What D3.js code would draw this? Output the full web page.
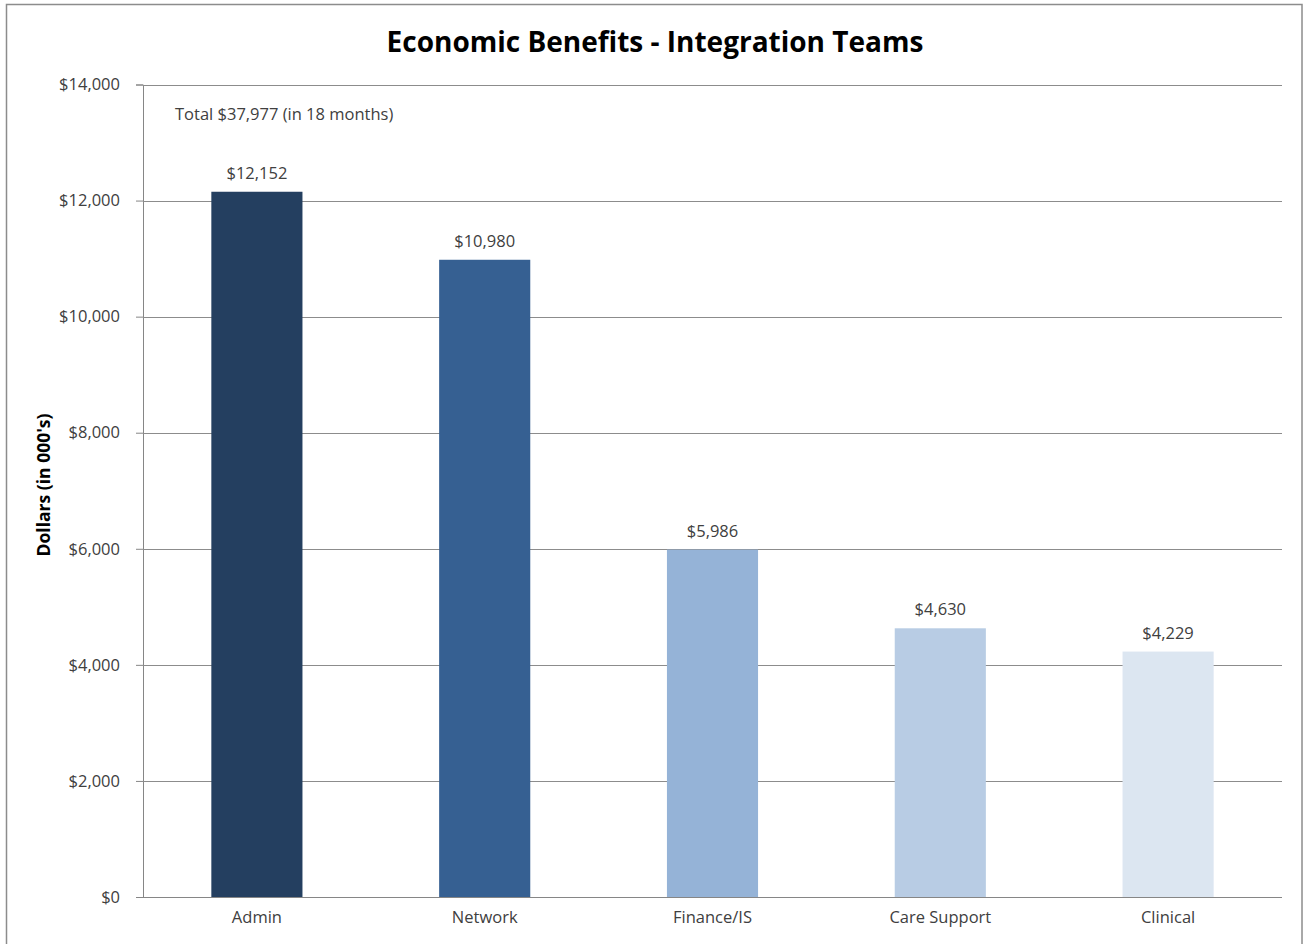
<!DOCTYPE html>
<html>
<head>
<meta charset="utf-8">
<script src="https://cdn.jsdelivr.net/npm/d3@7"></script>
<style>
  html, body { margin: 0; padding: 0; background: #fff; }
  svg { display: block; }
  text { font-family: "Open Sans", "Noto Sans", sans-serif; fill: #404040; }
</style>
</head>
<body>
<svg id="chart" width="1307" height="944"></svg>
<script>
const categories = ['Admin', 'Network', 'Finance/IS', 'Care Support', 'Clinical'];
const values = [12152, 10980, 5986, 4630, 4229];
const barColors = ['#243f60', '#366092', '#95b3d7', '#b8cce4', '#dce6f1'];
const yTicks = [0, 2000, 4000, 6000, 8000, 10000, 12000, 14000];
const title = 'Economic Benefits - Integration Teams';
const yTitle = "Dollars (in 000's)";
const note = 'Total $37,977 (in 18 months)';

const svg = d3.select('#chart');
const width = 1307, height = 944;
const margin = { top: 84.5, right: 25, bottom: 47, left: 143 };

// outer chart border
svg.append('rect')
  .attr('x', 6.5).attr('y', 4.5)
  .attr('width', 1295.5).attr('height', 960)
  .attr('fill', '#fff')
  .attr('stroke', '#8c8c8c')
  .attr('stroke-width', 1.5);

const x = d3.scaleBand()
  .domain(categories)
  .range([margin.left, width - margin.right])
  .paddingInner(0.6)
  .paddingOuter(0.3);

const y = d3.scaleLinear()
  .domain([0, 14000])
  .range([height - margin.bottom, margin.top]);

const fmt = d3.format('$,');

// gridlines + y axis
const yAxis = svg.append('g')
  .attr('transform', 'translate(' + margin.left + ',0)')
  .call(d3.axisLeft(y).tickValues(yTicks).tickSize(7).tickPadding(16).tickFormat(fmt));
yAxis.select('.domain').attr('stroke', '#868686');
yAxis.selectAll('.tick line').attr('stroke', '#868686');
yAxis.selectAll('.tick text')
  .attr('font-size', 16.5)
  .attr('fill', '#404040')
  .style('font-family', '"Open Sans", sans-serif');

svg.append('g')
  .selectAll('line')
  .data(yTicks.filter(d => d > 0))
  .enter().append('line')
  .attr('x1', margin.left)
  .attr('x2', width - margin.right)
  .attr('y1', d => Math.round(y(d)) + 0.5)
  .attr('y2', d => Math.round(y(d)) + 0.5)
  .attr('stroke', '#8c8c8c')
  .attr('stroke-width', 1);

// bars
svg.append('g')
  .selectAll('rect')
  .data(values)
  .enter().append('rect')
  .attr('x', (d, i) => x(categories[i]))
  .attr('y', d => y(d))
  .attr('width', x.bandwidth())
  .attr('height', d => y(0) - y(d))
  .attr('fill', (d, i) => barColors[i]);

// x axis
const xAxis = svg.append('g')
  .attr('transform', 'translate(0,' + y(0) + ')')
  .call(d3.axisBottom(x).tickSize(0).tickPadding(14));
xAxis.select('.domain').attr('stroke', '#868686').attr('d', 'M' + margin.left + ',0.5H' + (width - margin.right));
xAxis.selectAll('.tick text')
  .attr('font-size', 16.5)
  .attr('fill', '#404040')
  .style('font-family', '"Open Sans", sans-serif');

// value labels
svg.append('g')
  .selectAll('text')
  .data(values)
  .enter().append('text')
  .attr('x', (d, i) => x(categories[i]) + x.bandwidth() / 2)
  .attr('y', d => y(d) - 13)
  .attr('text-anchor', 'middle')
  .attr('font-size', 16.5)
  .text(d => fmt(d));

// title
svg.append('text')
  .attr('x', 655)
  .attr('y', 52)
  .attr('text-anchor', 'middle')
  .attr('font-size', 28)
  .attr('font-weight', 'bold')
  .style('fill', '#000')
  .text(title);

// y axis title
svg.append('text')
  .attr('transform', 'translate(50,485) rotate(-90)')
  .attr('text-anchor', 'middle')
  .attr('font-size', 17.5)
  .attr('font-weight', 'bold')
  .style('fill', '#000')
  .text(yTitle);

// annotation
svg.append('text')
  .attr('x', 175)
  .attr('y', 120)
  .attr('font-size', 16.5)
  .text(note);
</script>
</body>
</html>
